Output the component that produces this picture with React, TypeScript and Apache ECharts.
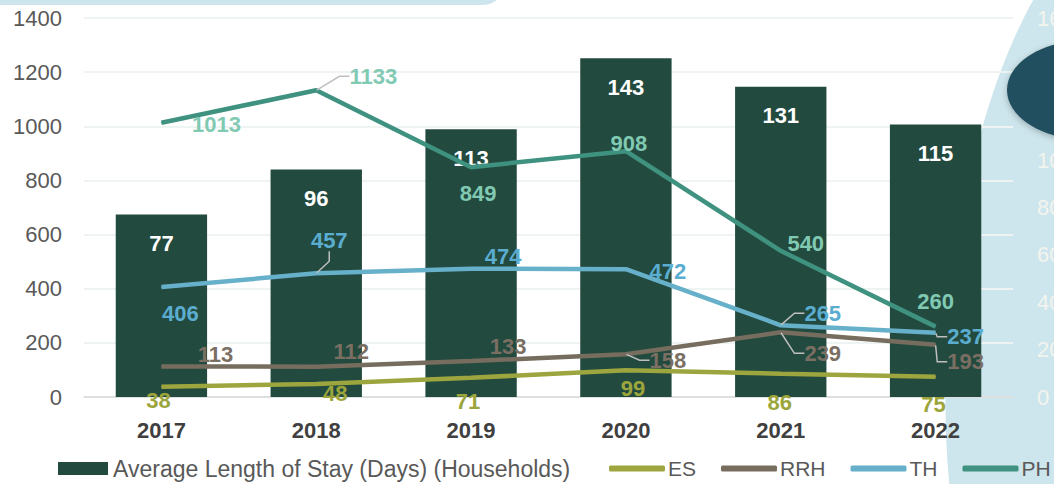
import React, { useEffect, useRef } from "react";
import * as echarts from "echarts";

const years = ["2017", "2018", "2019", "2020", "2021", "2022"];
const avgStay = [77, 96, 113, 143, 131, 115];
const esValues = [38, 48, 71, 99, 86, 75];
const rrhValues = [113, 112, 133, 158, 239, 193];
const thValues = [406, 457, 474, 472, 265, 237];
const phValues = [1013, 1133, 849, 908, 540, 260];

// label placement (layout only)
const phOffsets = [[55, 2], [57, -14], [7, 26], [3, -8], [25, -7], [0, -25]];
const thOffsets = [[19, 26], [13, -33], [32, -12], [42, 2], [42, -12], [30, 4]];
const rrhOffsets = [[54, -12], [35, -15], [37, -14], [42, 6], [42, 21], [30, 17]];
const esOffsets = [[-3, 14], [19, 9], [-3, 24], [7, 18], [-1, 29], [-2, 28]];
const phLeaders = [1];
const thLeaders = [1, 4, 5];
const rrhLeaders = [3, 4, 5];
const esLeaders: number[] = [];

const FONT = "'Liberation Sans', Arial, sans-serif";

function lineSeries(
  name: string,
  values: number[],
  color: string,
  labelColor: string,
  offsets: number[][],
  leaders: number[],
  z: number
) {
  return {
    name,
    type: "line",
    yAxisIndex: 0,
    z,
    symbol: "circle",
    symbolSize: 1,
    showSymbol: true,
    itemStyle: { color },
    lineStyle: { color, width: 4.5 },
    data: values.map((v, i) => ({
      value: v,
      labelLine: { show: leaders.includes(i) },
    })),
    label: {
      show: true,
      position: "inside",
      color: labelColor,
      fontFamily: FONT,
      fontWeight: "bold",
      fontSize: 22,
    },
    labelLine: {
      show: false,
      length2: 10,
      lineStyle: { color: "#bfbfbf", width: 1.5 },
    },
    labelLayout: (p: any) => ({
      dx: offsets[p.dataIndex][0],
      dy: offsets[p.dataIndex][1],
    }),
  };
}

export default function App() {
  const ref = useRef<HTMLDivElement>(null);
  useEffect(() => {
    if (!ref.current) return;
    const chart = echarts.init(ref.current, undefined, { renderer: "svg" });
    chart.setOption({
      animation: false,
      backgroundColor: "#ffffff",
      textStyle: { fontFamily: FONT },
      graphic: [
        {
          type: "rect",
          z: -10,
          shape: { x: -30, y: -40, width: 535, height: 45, r: 22 },
          style: { fill: "#cde5ec" },
        },
        {
          type: "ellipse",
          z: -10,
          x: 1100,
          y: 312,
          rotation: -0.1,
          shape: { cx: 0, cy: 0, rx: 150, ry: 400 },
          style: { fill: "#cde5ec" },
        },
        {
          type: "ellipse",
          z: 100,
          shape: { cx: 1088, cy: 90, rx: 81, ry: 50 },
          style: {
            fill: "#244f5f",
            shadowBlur: 6,
            shadowColor: "rgba(0,0,0,0.25)",
            shadowOffsetY: 2,
          },
        },
      ],
      grid: {
        left: 84,
        right: 41,
        top: 18,
        bottom: 87,
        containLabel: false,
        outerBoundsMode: "none",
      },
      legend: [
        {
          left: 58,
          top: 457,
          padding: 0,
          width: 540,
          itemWidth: 50,
          itemHeight: 13,
          itemGap: 20,
          data: [{ name: "Average Length of Stay (Days) (Households)", icon: "rect" }],
          textStyle: { color: "#595959", fontSize: 23, fontFamily: FONT },
        },
        {
          left: 609,
          top: 458,
          padding: 0,
          width: 600,
          itemWidth: 56,
          itemHeight: 6,
          itemGap: 25,
          icon: "roundRect",
          data: ["ES", "RRH", "TH", "PH"],
          textStyle: { color: "#595959", fontSize: 21, fontFamily: FONT, padding: [0, 0, 0, -2] },
        },
      ],
      xAxis: {
        type: "category",
        data: years,
        axisTick: { show: false },
        axisLine: { lineStyle: { color: "#d9d9d9", width: 1.5 } },
        axisLabel: {
          color: "#404040",
          fontWeight: "bold",
          fontSize: 22,
          fontFamily: FONT,
          margin: 22,
        },
      },
      yAxis: [
        {
          type: "value",
          min: 0,
          max: 1400,
          interval: 200,
          axisLine: { show: false },
          axisTick: { show: false },
          splitLine: { lineStyle: { color: "#edf4f2", width: 2 } },
          axisLabel: {
            color: "#595959",
            fontSize: 22,
            fontFamily: FONT,
            margin: 22,
            formatter: (v: number) => String(v),
          },
        },
        {
          type: "value",
          min: 0,
          max: 160,
          interval: 20,
          position: "right",
          axisLine: { show: false },
          axisTick: { show: false },
          splitLine: { show: false },
          axisLabel: {
            color: "#f3f4ee",
            fontSize: 22,
            fontFamily: FONT,
            margin: 24,
            formatter: (v: number) => String(v),
          },
        },
      ],
      series: [
        {
          name: "Average Length of Stay (Days) (Households)",
          type: "bar",
          yAxisIndex: 1,
          barWidth: "59%",
          z: 1,
          itemStyle: { color: "#234a3f" },
          data: avgStay,
          label: {
            show: true,
            position: "insideTop",
            distance: 18,
            color: "#ffffff",
            fontWeight: "bold",
            fontSize: 22,
            fontFamily: FONT,
          },
        },
        lineSeries("ES", esValues, "#9da63e", "#9ca53c", esOffsets, esLeaders, 3),
        lineSeries("RRH", rrhValues, "#766d5f", "#7a6f62", rrhOffsets, rrhLeaders, 4),
        lineSeries("TH", thValues, "#67b0ca", "#5badd0", thOffsets, thLeaders, 5),
        lineSeries("PH", phValues, "#3e927f", "#80c9b2", phOffsets, phLeaders, 6),
      ],
    });
    return () => chart.dispose();
  }, []);
  return (
    <div
      ref={ref}
      style={{ position: "fixed", left: 0, top: 0, width: 1054, height: 484 }}
    />
  );
}
